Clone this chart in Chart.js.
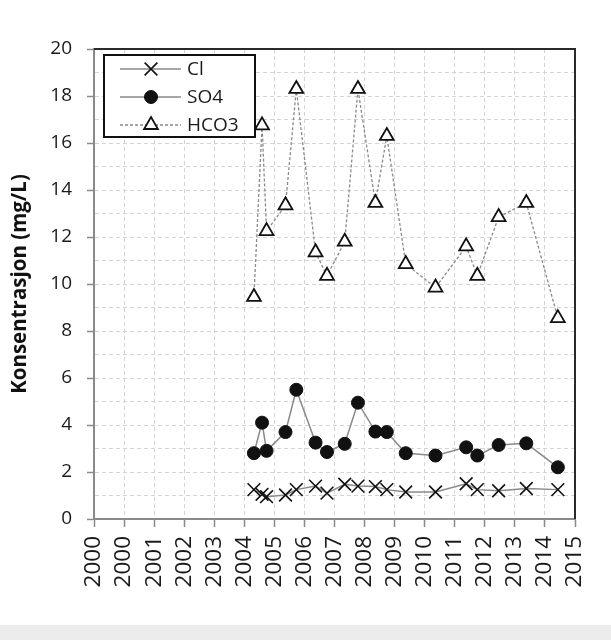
<!DOCTYPE html>
<html>
<head>
<meta charset="utf-8">
<script src="https://cdn.jsdelivr.net/npm/chart.js@4/dist/chart.umd.min.js"></script>
<style>
  html, body { margin: 0; padding: 0; background: #ececec; }
  #wrap { width: 611px; height: 625px; background: #ffffff; position: relative; }
</style>
</head>
<body>
<div id="wrap"><canvas id="c" width="611" height="625"></canvas></div>
<script>
// ---- data ----
const sampleDates = [2005.32, 2005.59, 2005.74, 2006.37, 2006.73, 2007.37, 2007.75, 2008.34, 2008.78,
                     2009.36, 2009.74, 2010.37, 2011.36, 2012.38, 2012.75, 2013.46, 2014.38, 2015.43];
const clValues   = [1.25, 1.05, 0.95, 1.02, 1.25, 1.4, 1.1, 1.48, 1.4, 1.38, 1.25, 1.15, 1.15, 1.5, 1.25, 1.2, 1.3, 1.25];
const so4Values  = [2.8, 4.1, 2.9, 3.7, 5.5, 3.25, 2.85, 3.2, 4.95, 3.72, 3.7, 2.8, 2.7, 3.05, 2.7, 3.15, 3.22, 2.2];
const hco3Values = [9.45, 16.75, 12.25, 13.35, 18.3, 11.35, 10.35, 11.8, 18.3, 13.45, 16.3, 10.85, 9.85, 11.6, 10.35, 12.85, 13.45, 8.55];
const seriesNames = ['Cl', 'SO4', 'HCO3'];
const xTickLabels = ['2000', '2000', '2001', '2002', '2003', '2004', '2005', '2006', '2007',
                     '2008', '2009', '2010', '2011', '2012', '2013', '2014', '2015'];
const yAxisTitle = 'Konsentrasjon (mg/L)';

const toPoints = vals => vals.map((v, i) => ({ x: sampleDates[i], y: v }));

const FONT = "'Open Sans', sans-serif";
const LINE = '#8a8a8a';

const frameAndLegend = {
  id: 'frameAndLegend',
  afterDatasetsDraw(chart) {
    const { ctx, chartArea: a } = chart;
    ctx.save();
    // dark top and right frame
    ctx.strokeStyle = '#2a2a2a';
    ctx.lineWidth = 2;
    ctx.beginPath();
    ctx.moveTo(a.left, a.top);
    ctx.lineTo(a.right, a.top);
    ctx.lineTo(a.right, a.bottom);
    ctx.stroke();

    // legend box
    const bx = 104, by = 55, bw = 151, bh = 82;
    ctx.fillStyle = '#ffffff';
    ctx.fillRect(bx, by, bw, bh);
    ctx.strokeStyle = '#111';
    ctx.lineWidth = 2;
    ctx.strokeRect(bx, by, bw, bh);
    const rows = [69, 97, 125];
    chart.data.datasets.forEach((ds, i) => {
      const y = rows[i];
      ctx.save();
      ctx.strokeStyle = ds.borderColor;
      ctx.lineWidth = ds.borderWidth;
      ctx.setLineDash(ds.borderDash || []);
      ctx.beginPath();
      ctx.moveTo(120, y);
      ctx.lineTo(181, y);
      ctx.stroke();
      ctx.restore();
      ctx.save();
      ctx.fillStyle = ds.pointBackgroundColor;
      ctx.strokeStyle = ds.pointBorderColor;
      ctx.lineWidth = ds.pointBorderWidth;
      Chart.helpers.drawPoint(ctx, { pointStyle: ds.pointStyle, radius: ds.pointRadius, rotation: 0, borderWidth: ds.pointBorderWidth }, 151, y);
      ctx.restore();
      ctx.fillStyle = '#1a1a1a';
      ctx.font = '19px ' + FONT;
      ctx.textBaseline = 'middle';
      ctx.textAlign = 'left';
      ctx.fillText(ds.label, 187, y + 1);
    });
    ctx.restore();
  }
};

new Chart(document.getElementById('c'), {
  type: 'line',
  data: {
    datasets: [
      { label: seriesNames[0], data: toPoints(clValues), borderColor: LINE, borderWidth: 1.5,
        pointStyle: 'crossRot', pointRadius: 9, pointBorderWidth: 1.6,
        pointBackgroundColor: '#111', pointBorderColor: '#111', order: 1 },
      { label: seriesNames[1], data: toPoints(so4Values), borderColor: LINE, borderWidth: 1.5,
        pointStyle: 'circle', pointRadius: 6.5, pointBorderWidth: 1,
        pointBackgroundColor: '#111', pointBorderColor: '#111', order: 2 },
      { label: seriesNames[2], data: toPoints(hco3Values), borderColor: LINE, borderWidth: 1.3,
        borderDash: [3, 2],
        pointStyle: 'triangle', pointRadius: 8, pointBorderWidth: 1.8,
        pointBackgroundColor: '#ffffff', pointBorderColor: '#111', order: 3 }
    ]
  },
  options: {
    responsive: false,
    animation: false,
    layout: { padding: { left: 0, right: 35, top: 49, bottom: 0 } },
    plugins: { legend: { display: false }, tooltip: { enabled: false } },
    scales: {
      x: {
        type: 'linear', min: 2000, max: 2016,
        afterFit(s) { s.height = 106; },
        afterBuildTicks(s) { s.ticks = xTickLabels.map((_, i) => ({ value: 2000 + i })); },
        ticks: {
          autoSkip: false, minRotation: 90, maxRotation: 90, padding: 9,
          color: '#1a1a1a', font: { family: FONT, size: 22.5 },
          callback: v => xTickLabels[Math.round(v - 2000)]
        },
        grid: { color: '#d4d4d4', tickColor: '#8a8a8a', tickLength: 8, tickBorderDash: [], tickWidth: 1.5, lineWidth: 1 },
        border: { display: true, color: '#8a8a8a', width: 2, dash: [4, 3] }
      },
      y: {
        type: 'linear', min: 0, max: 20,
        afterFit(s) { s.width = 94; },
        ticks: {
          stepSize: 1, autoSkip: false, padding: 15,
          color: '#1a1a1a', font: { family: FONT, size: 19 },
          callback: v => (v % 2 === 0 ? String(v) : '')
        },
        grid: {
          color: '#d4d4d4',
          tickColor: c => (c.tick && c.tick.value % 2 === 0 ? '#8a8a8a' : 'rgba(0,0,0,0)'),
          tickLength: 7, tickBorderDash: [], tickWidth: 1.5, lineWidth: 1
        },
        border: { display: true, color: '#8a8a8a', width: 2, dash: [4, 3] },
        title: { display: true, text: yAxisTitle, color: '#111', font: { family: FONT, size: 20.5, weight: 'bold' }, padding: { top: 8, bottom: 0 } }
      }
    }
  },
  plugins: [frameAndLegend]
});
</script>
</body>
</html>
